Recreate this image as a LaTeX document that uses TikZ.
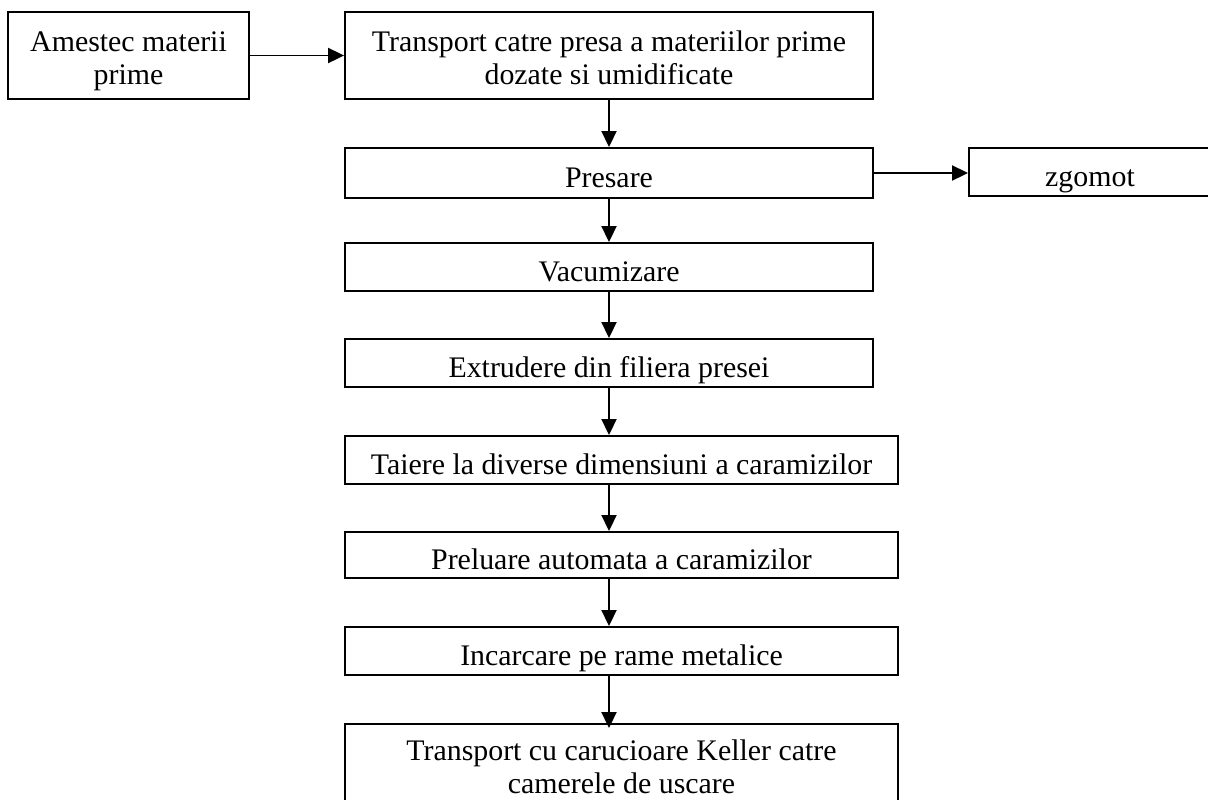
\documentclass[tikz,border=0pt]{standalone}
\usepackage{fontspec}
\setmainfont{Liberation Serif}
\usetikzlibrary{positioning,arrows.meta}
\newcommand{\relation}[3][]{
	% down the main column, same x for every step
	\draw [flow,#1] (axis |- #2.south) -- (axis |- #3.north);
}
\newcommand{\sidelink}[2]{
	\draw [flow] (#1.east) -- (#1.east -| #2.west);
}

\begin{document}
\begin{tikzpicture}[x=0.02cm, y=-0.02cm,
	box/.style={draw, line width=1.1pt, inner sep=0pt, font=\fontsize{17}{18.7}\selectfont},
	oneline/.style={box, text height=18.6pt, text depth=2.6pt},
	twoline/.style={box, align=center, text height=35pt, text depth=2pt},
	flow/.style={line width=1.1pt, -{Triangle[length=0.32cm, width=0.3cm]}}]
	\clip (0,0) rectangle (1208,799);
	\coordinate (axis) at (609,0);
	\node [twoline, minimum width=4.82cm, minimum height=1.74cm] (amestec) at (128.5,55.5) {Amestec materii\\prime};
	\node [twoline, minimum width=10.56cm, minimum height=1.74cm] (transport) at (609,55.5) {Transport catre presa a materiilor prime\\dozate si umidificate};
	\node [oneline, minimum width=10.56cm, minimum height=1cm] (presare) at (609,173) {Presare};
	\node [oneline, minimum width=4.84cm, minimum height=0.96cm] (zgomot) at (1090,172) {zgomot};
	\node [oneline, minimum width=10.56cm, minimum height=0.96cm] (vacumizare) at (609,267) {Vacumizare};
	\node [oneline, minimum width=10.56cm, minimum height=0.96cm] (extrudere) at (609,363) {Extrudere din filiera presei};
	\node [oneline, minimum width=11.06cm, minimum height=0.96cm] (taiere) at (621.5,460) {Taiere la diverse dimensiuni a caramizilor};
	\node [oneline, minimum width=11.06cm, minimum height=0.92cm] (preluare) at (621.5,555) {Preluare automata a caramizilor};
	\node [oneline, minimum width=11.06cm, minimum height=0.96cm] (incarcare) at (621.5,651) {Incarcare pe rame metalice};
	\node [twoline, text height=30.5pt, minimum width=11.06cm, minimum height=1.76cm] (uscare) at (621.5,768) {Transport cu carucioare Keller catre\\camerele de uscare};
	% \node [oneline] (test) at (609,700) {};
	\sidelink{amestec}{transport}
	\sidelink{presare}{zgomot}
	\relation{transport}{presare}
	\relation{presare}{vacumizare}
	\relation{vacumizare}{extrudere}
	\relation{extrudere}{taiere}
	\relation{taiere}{preluare}
	\relation{preluare}{incarcare}
	\relation[shorten >=-0.1cm]{incarcare}{uscare}
\end{tikzpicture}
\end{document}
